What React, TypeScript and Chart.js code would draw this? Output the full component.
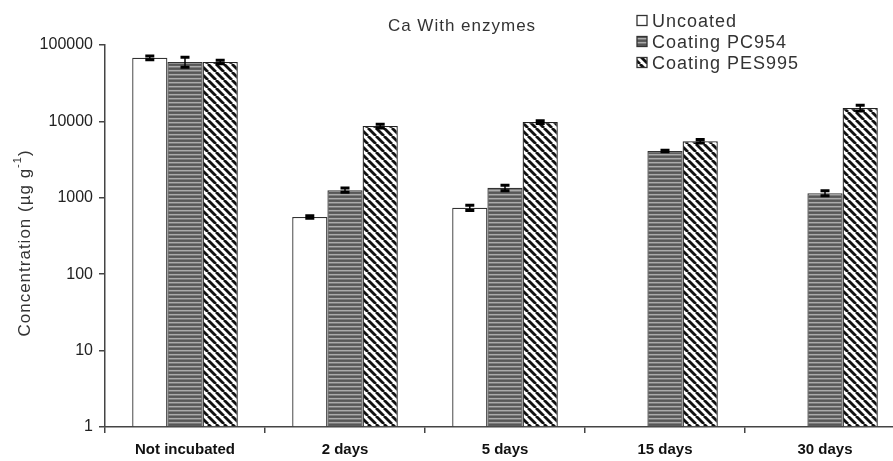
import { useEffect, useRef } from "react";
import { Chart, registerables } from "chart.js";
Chart.register(...registerables);

const categories = ["Not incubated", "2 days", "5 days", "15 days", "30 days"];
const seriesNames = ["Uncoated", "Coating PC954", "Coating PES995"];
const uncoated = [68000, 560, 740, null, null];
const uncoatedErr = [4000, 20, 60, null, null];
const pc954 = [60000, 1260, 1350, 4100, 1150];
const pc954Err = [9000, 80, 110, 100, 90];
const pes995 = [60000, 8700, 9800, 5500, 15000];
const pes995Err = [3000, 500, 400, 300, 1300];
const yTicks = [1, 10, 100, 1000, 10000, 100000];
const chartTitle = "Ca With enzymes";
const yTitleMain = "Concentration (\u00b5g g";
const yTitleSup = "-1";
const yTitleEnd = ")";

const FONT = "'Liberation Sans', Arial, sans-serif";

function makeGrayPattern(ctx: CanvasRenderingContext2D) {
  const c = document.createElement("canvas");
  c.width = 4;
  c.height = 4;
  const g = c.getContext("2d")!;
  const rows = ["#575757", "#5e5e5e", "#ababab", "#7c7c7c"];
  rows.forEach((col, i) => {
    g.fillStyle = col;
    g.fillRect(0, i, 4, 1);
  });
  return ctx.createPattern(c, "repeat")!;
}

function makeDiagPattern(ctx: CanvasRenderingContext2D) {
  const s = 8;
  const c = document.createElement("canvas");
  c.width = s;
  c.height = s;
  const g = c.getContext("2d")!;
  g.fillStyle = "#ffffff";
  g.fillRect(0, 0, s, s);
  g.strokeStyle = "#111111";
  g.lineWidth = 2.8;
  for (const x0 of [-s, 0, s]) {
    g.beginPath();
    g.moveTo(x0, 0);
    g.lineTo(x0 + s, s);
    g.stroke();
  }
  return ctx.createPattern(c, "repeat")!;
}

export default function App() {
  const ref = useRef<HTMLCanvasElement>(null);
  useEffect(() => {
    const canvas = ref.current!;
    const ctx0 = canvas.getContext("2d")!;
    const gray = makeGrayPattern(ctx0);
    const diag = makeDiagPattern(ctx0);
    const fills = ["#ffffff", gray, diag];
    const errs = [uncoatedErr, pc954Err, pes995Err];

    const overlay = {
      id: "overlay",
      afterDatasetsDraw(chart: any) {
        const ctx = chart.ctx as CanvasRenderingContext2D;
        const ys = chart.scales.y;
        ctx.save();
        chart.data.datasets.forEach((ds: any, di: number) => {
          const meta = chart.getDatasetMeta(di);
          const e = errs[di];
          meta.data.forEach((el: any, i: number) => {
            const v = ds.data[i];
            const er = e[i];
            if (v == null || er == null) return;
            const top = ys.getPixelForValue(v + er);
            const bot = ys.getPixelForValue(Math.max(v - er, 1));
            ctx.strokeStyle = "#000";
            ctx.lineWidth = 1.5;
            ctx.beginPath();
            ctx.moveTo(el.x, top);
            ctx.lineTo(el.x, bot);
            ctx.stroke();
            ctx.lineWidth = 3;
            ctx.beginPath();
            ctx.moveTo(el.x - 4.5, top);
            ctx.lineTo(el.x + 4.5, top);
            ctx.moveTo(el.x - 4.5, bot);
            ctx.lineTo(el.x + 4.5, bot);
            ctx.stroke();
          });
        });
        ctx.restore();
      },
      afterDraw(chart: any) {
        const ctx = chart.ctx as CanvasRenderingContext2D;
        ctx.save();
        // title
        ctx.fillStyle = "#333";
        ctx.font = `17px ${FONT}`;
        (ctx as any).letterSpacing = "1px";
        ctx.textAlign = "center";
        ctx.textBaseline = "alphabetic";
        ctx.fillText(chartTitle, 462, 31);

        // legend
        ctx.textAlign = "left";
        ctx.font = `18px ${FONT}`;
        (ctx as any).letterSpacing = "1px";
        const centers = [20.5, 41.5, 62.5];
        seriesNames.forEach((name, i) => {
          const cy = centers[i];
          ctx.fillStyle = fills[i] as any;
          ctx.fillRect(637, cy - 5, 10, 10);
          ctx.strokeStyle = "#333";
          ctx.lineWidth = 1.3;
          ctx.strokeRect(637, cy - 5, 10, 10);
          ctx.fillStyle = "#333";
          ctx.fillText(name, 652, cy + 6.5);
        });

        // y axis title
        ctx.translate(25, 243);
        ctx.rotate(-Math.PI / 2);
        const mainFont = `17px ${FONT}`;
        const supFont = `11px ${FONT}`;
        (ctx as any).letterSpacing = "1px";
        ctx.font = mainFont;
        const w1 = ctx.measureText(yTitleMain).width;
        const w3 = ctx.measureText(yTitleEnd).width;
        ctx.font = supFont;
        const w2 = ctx.measureText(yTitleSup).width;
        const total = w1 + w2 + w3;
        let x = -total / 2;
        ctx.fillStyle = "#333";
        ctx.textBaseline = "middle";
        ctx.font = mainFont;
        ctx.fillText(yTitleMain, x, 0);
        x += w1;
        ctx.font = supFont;
        ctx.fillText(yTitleSup, x, -7);
        x += w2;
        ctx.font = mainFont;
        ctx.fillText(yTitleEnd, x, 0);
        ctx.restore();
      },
    };

    const chart = new Chart(canvas, {
      type: "bar",
      data: {
        labels: categories,
        datasets: [
          { label: seriesNames[0], data: uncoated as any, backgroundColor: fills[0] as any, borderColor: "#333", borderWidth: 1.3 },
          { label: seriesNames[1], data: pc954, backgroundColor: fills[1] as any, borderColor: "#333", borderWidth: 1.3 },
          { label: seriesNames[2], data: pes995, backgroundColor: fills[2] as any, borderColor: "#222", borderWidth: 1.3 },
        ],
      },
      options: {
        responsive: false,
        animation: false,
        devicePixelRatio: 1,
        layout: { padding: { left: 0, right: 15, top: 45, bottom: 0 } },
        datasets: { bar: { categoryPercentage: 0.66, barPercentage: 1, base: 1 } } as any,
        plugins: {
          legend: { display: false },
          title: { display: false },
          tooltip: { enabled: false },
        },
        scales: {
          x: {
            grid: { display: true, drawOnChartArea: false, drawTicks: true, tickLength: 6, color: "#444", lineWidth: 1.5, offset: true },
            border: { display: true, color: "#444", width: 1.5 },
            ticks: { color: "#111", font: { family: FONT, size: 15, weight: "bold" }, padding: 8, maxRotation: 0, autoSkip: false },
            afterFit: (s: any) => {
              s.height = 34;
            },
          },
          y: {
            type: "logarithmic",
            min: 1,
            max: 100000,
            afterBuildTicks: (s: any) => {
              s.ticks = yTicks.map((v) => ({ value: v }));
            },
            afterFit: (s: any) => {
              s.width = 105;
            },
            grid: { display: true, drawOnChartArea: false, drawTicks: true, tickLength: 6, color: "#444", lineWidth: 1.5 },
            border: { display: true, color: "#444", width: 1.5 },
            ticks: { color: "#222", font: { family: FONT, size: 16 }, padding: 6, callback: (v: any) => String(v) },
          },
        },
      },
      plugins: [overlay],
    });
    return () => chart.destroy();
  }, []);

  return (
    <div style={{ position: "fixed", left: 0, top: 0, width: 893, height: 461, overflow: "hidden", background: "#fff" }}>
      <canvas ref={ref} width={920} height={461} style={{ width: 920, height: 461, display: "block" }} />
    </div>
  );
}
